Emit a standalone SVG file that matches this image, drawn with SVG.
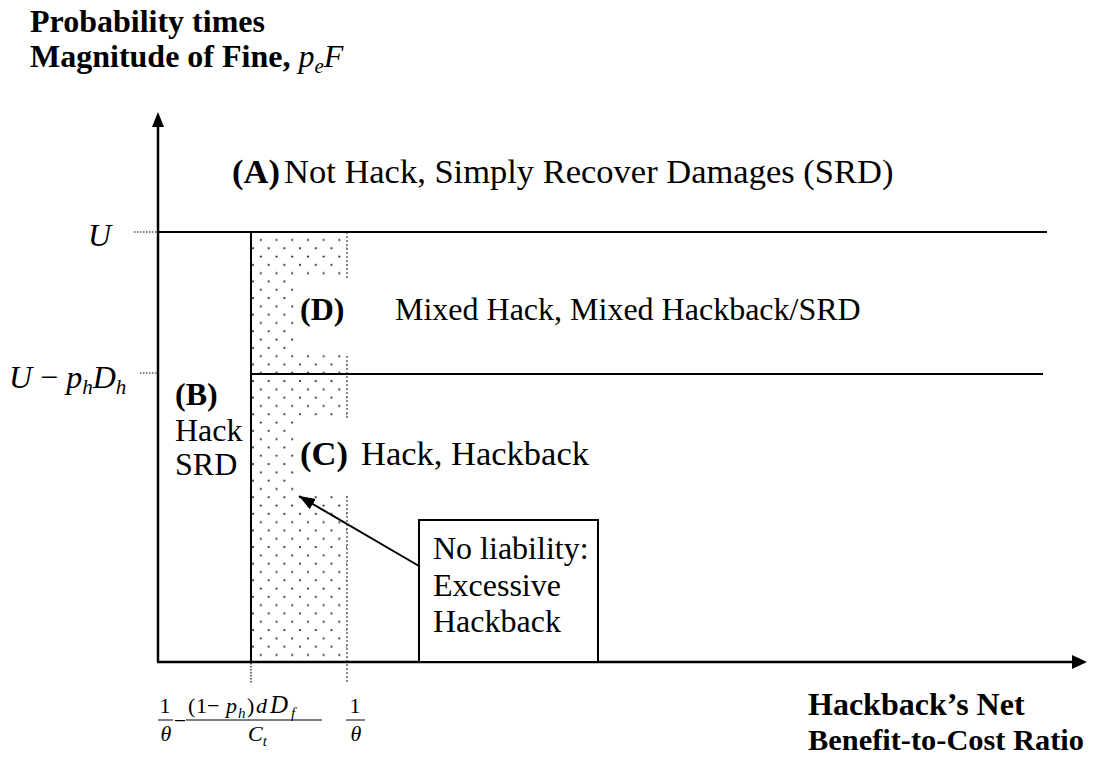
<svg xmlns="http://www.w3.org/2000/svg" width="1095" height="769" viewBox="0 0 1095 769">
  <style>
    text { font-family: "Liberation Serif", "Times New Roman", serif; fill: #000; }
    .t { font-size: 32px; }
    .big { font-size: 34.5px; }
    .b { font-weight: bold; }
    .i { font-style: italic; }
    .m { font-size: 22px; }
    .sub { font-size: 15px; }
    .ax { stroke: #000; stroke-width: 2.5; fill: none; }
    .ln { stroke: #000; stroke-width: 2; fill: none; }
    .lead { stroke: #000; stroke-width: 1.2; stroke-dasharray: 1.5 1.5; fill: none; }
    .gray { stroke: #666; stroke-width: 1.5; stroke-dasharray: 2 2; fill: none; }
    .bar { stroke: #000; stroke-width: 1; }
  </style>
  <defs>
    <pattern id="dots" patternUnits="userSpaceOnUse" x="249" y="227.7" width="15.7" height="16.6">
      <circle cx="4" cy="4" r="1.05" fill="#222"/>
      <circle cx="11.85" cy="12.3" r="1.05" fill="#222"/>
    </pattern>
    <marker id="head" viewBox="0 0 16 12" refX="16" refY="6" markerWidth="16" markerHeight="12" markerUnits="userSpaceOnUse" orient="auto">
      <path d="M0,0 L16,6 L0,12 Z" fill="#000"/>
    </marker>
  </defs>

  <!-- axis titles -->
  <g id="y-title">
    <text class="t b" x="30" y="32">Probability times</text>
    <text class="t b" x="30" y="67">Magnitude of Fine, <tspan class="i" font-weight="normal">p</tspan><tspan class="i" font-weight="normal" font-size="21" dy="6">e</tspan><tspan class="i" font-weight="normal" dy="-6">F</tspan></text>
  </g>
  <g id="x-title">
    <text class="t b" x="808" y="715">Hackback’s Net</text>
    <text class="b" x="808" y="750" font-size="30.4">Benefit-to-Cost Ratio</text>
  </g>

  <!-- shaded no-liability band -->
  <g id="band">
    <rect x="252" y="233" width="95" height="428" fill="url(#dots)"/>
    <line class="gray" x1="347" y1="232" x2="347" y2="684"/>
    <rect x="298" y="279" width="56" height="76" fill="#fff"/>
    <rect x="298" y="420" width="56" height="76" fill="#fff"/>
  </g>

  <!-- axes and region boundaries -->
  <g id="connectors">
    <line class="ax" x1="158" y1="125" x2="158" y2="662"/>
    <path d="M158,112 L152,127 L164,127 Z" fill="#000"/>
    <line class="ax" x1="157" y1="662" x2="1074" y2="662"/>
    <path d="M1087,662 L1072,655 L1072,669 Z" fill="#000"/>
    <line class="ln" x1="158" y1="232" x2="1047" y2="232"/>
    <line class="ln" x1="251" y1="374" x2="1043" y2="374"/>
    <line class="ln" x1="251" y1="232" x2="251" y2="662"/>
    <line class="lead" x1="134" y1="232" x2="157" y2="232"/>
    <line class="lead" x1="140" y1="373" x2="157" y2="373"/>
    <line class="lead" x1="251" y1="663" x2="251" y2="684"/>
    <line stroke="#000" stroke-width="2" x1="419" y1="566" x2="299" y2="496" marker-end="url(#head)"/>
  </g>

  <!-- y-axis level labels -->
  <g id="level-U">
    <text class="t i" x="88" y="246">U</text>
  </g>
  <g id="level-U-phDh">
    <text class="t i" x="9" y="388">U <tspan font-style="normal">−</tspan> p<tspan font-size="21" dy="6">h</tspan><tspan dy="-6">D</tspan><tspan font-size="21" dy="6">h</tspan></text>
  </g>

  <!-- regions -->
  <g id="region-A">
    <text class="big" x="232" y="183"><tspan class="b">(A)</tspan><tspan x="284">Not Hack, Simply Recover Damages (SRD)</tspan></text>
  </g>
  <g id="region-D">
    <text class="t" x="300" y="320"><tspan class="b">(D)</tspan><tspan x="395">Mixed Hack, Mixed Hackback/SRD</tspan></text>
  </g>
  <g id="region-C">
    <text class="big" x="300" y="465"><tspan class="b">(C)</tspan><tspan x="361">Hack, Hackback</tspan></text>
  </g>
  <g id="region-B">
    <text class="t b" x="175" y="405">(B)</text>
    <text class="t" x="175" y="441">Hack</text>
    <text class="t" x="175" y="475">SRD</text>
  </g>

  <!-- callout -->
  <g id="callout">
    <rect x="419" y="520" width="179" height="142" fill="#fff" stroke="#000" stroke-width="2"/>
    <text class="t" x="433" y="559">No liability:</text>
    <text class="t" x="433" y="596">Excessive</text>
    <text class="t" x="433" y="632">Hackback</text>
  </g>

  <!-- x-axis threshold labels -->
  <g id="threshold-low">
    <text class="m" x="165" y="713" text-anchor="middle">1</text>
    <line class="bar" x1="158" y1="720" x2="173" y2="720"/>
    <text class="m i" x="166" y="741" text-anchor="middle" font-size="24">θ</text>
    <text class="m" x="180" y="728" text-anchor="middle">−</text>
    <text class="m" y="713" font-size="23">
      <tspan x="188">(</tspan><tspan x="196">1</tspan><tspan x="207">−</tspan><tspan class="i" x="226">p</tspan><tspan class="i sub" x="238" dy="5">h</tspan><tspan x="247" dy="-5">)</tspan><tspan class="i" x="256">d</tspan><tspan class="i" x="270" font-size="25">D</tspan><tspan class="i sub" x="291" dy="5">f</tspan>
    </text>
    <line class="bar" x1="186" y1="720" x2="322" y2="720"/>
    <text class="m i" x="248" y="741">C<tspan class="sub" dy="5">t</tspan></text>
  </g>
  <g id="threshold-high">
    <text class="m" x="355" y="713" text-anchor="middle">1</text>
    <line class="bar" x1="346" y1="720" x2="365" y2="720"/>
    <text class="m i" x="356" y="741" text-anchor="middle" font-size="24">θ</text>
  </g>
</svg>
